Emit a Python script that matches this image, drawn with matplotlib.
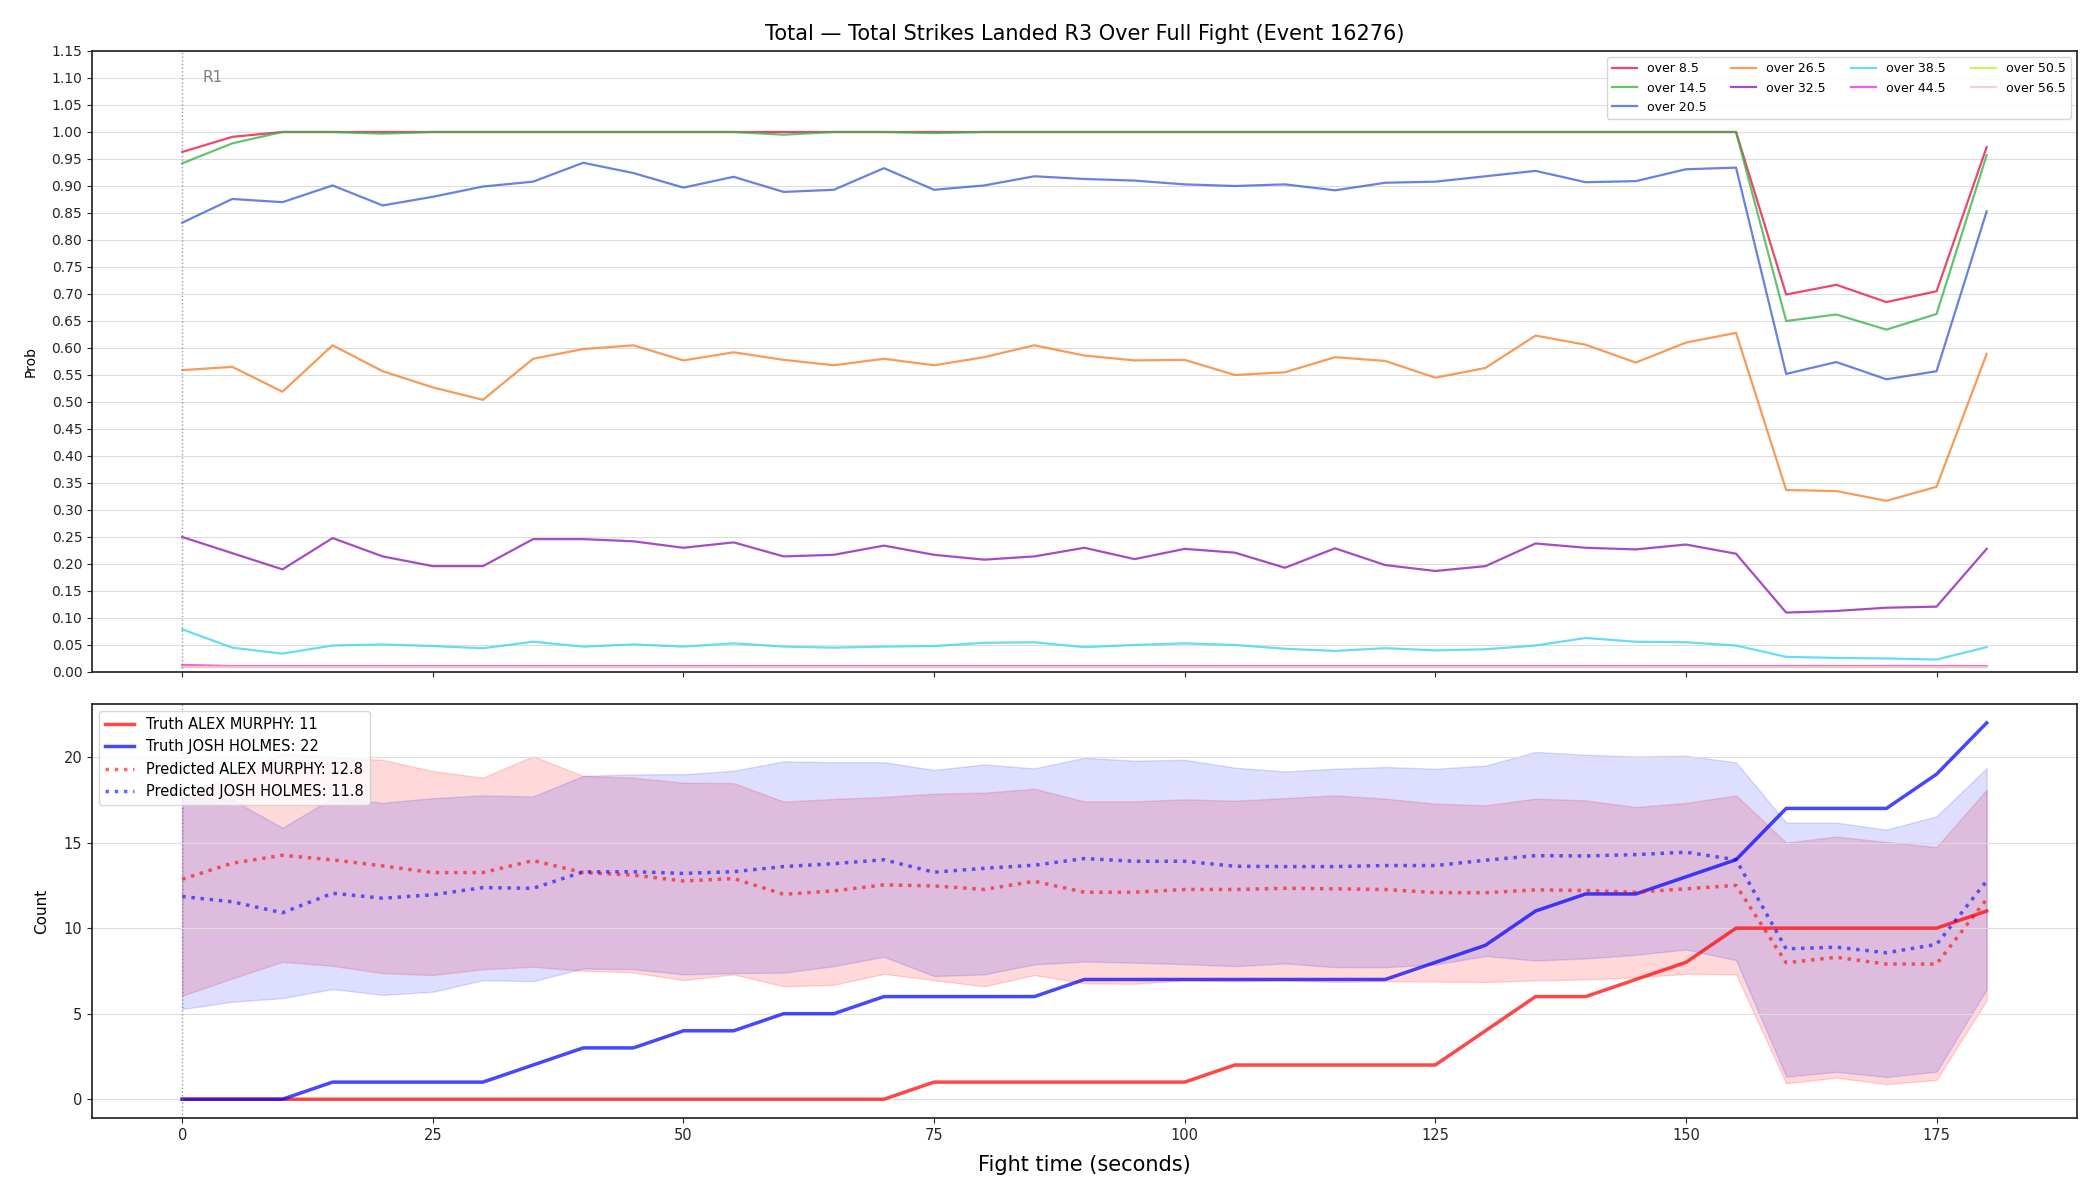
import numpy as np
import matplotlib
matplotlib.use("Agg")
import matplotlib.pyplot as plt
import matplotlib.transforms as mtransforms

# fight time, every 5 s
t = list(range(0, 185, 5))

# market lines, probability of going over
over_8_5 = [0.963, 0.991, 1.0, 1.0, 1.0, 1.0, 1.0, 1.0, 1.0, 1.0, 1.0, 1.0, 1.0, 1.0, 1.0, 1.0, 1.0, 1.0,
            1.0, 1.0, 1.0, 1.0, 1.0, 1.0, 1.0, 1.0, 1.0, 1.0, 1.0, 1.0, 1.0, 1.0, 0.699, 0.717, 0.685, 0.705, 0.972]
over_14_5 = [0.942, 0.979, 1.0, 1.0, 0.997, 1.0, 1.0, 1.0, 1.0, 1.0, 1.0, 1.0, 0.995, 1.0, 1.0, 0.998, 1.0, 1.0,
             1.0, 1.0, 1.0, 1.0, 1.0, 1.0, 1.0, 1.0, 1.0, 1.0, 1.0, 1.0, 1.0, 1.0, 0.650, 0.662, 0.634, 0.663, 0.957]
over_20_5 = [0.832, 0.876, 0.870, 0.901, 0.864, 0.880, 0.899, 0.908, 0.943, 0.924, 0.897, 0.917, 0.889, 0.893,
             0.933, 0.893, 0.901, 0.918, 0.913, 0.910, 0.903, 0.900, 0.903, 0.892, 0.906, 0.908, 0.918, 0.928,
             0.907, 0.909, 0.931, 0.934, 0.552, 0.574, 0.542, 0.557, 0.853]
over_26_5 = [0.559, 0.565, 0.519, 0.605, 0.557, 0.527, 0.504, 0.580, 0.598, 0.605, 0.577, 0.592, 0.578, 0.568,
             0.580, 0.568, 0.583, 0.605, 0.586, 0.577, 0.578, 0.550, 0.555, 0.583, 0.576, 0.545, 0.563, 0.623,
             0.606, 0.573, 0.610, 0.628, 0.337, 0.335, 0.317, 0.343, 0.589]
over_32_5 = [0.250, 0.220, 0.190, 0.248, 0.214, 0.196, 0.196, 0.246, 0.246, 0.242, 0.230, 0.240, 0.214, 0.217,
             0.234, 0.217, 0.208, 0.214, 0.230, 0.209, 0.228, 0.221, 0.193, 0.229, 0.198, 0.187, 0.196, 0.238,
             0.230, 0.227, 0.236, 0.219, 0.110, 0.113, 0.119, 0.121, 0.228]
over_38_5 = [0.079, 0.045, 0.034, 0.049, 0.051, 0.048, 0.044, 0.056, 0.047, 0.051, 0.047, 0.053, 0.047, 0.045,
             0.047, 0.048, 0.054, 0.055, 0.046, 0.050, 0.053, 0.050, 0.043, 0.039, 0.044, 0.040, 0.042, 0.049,
             0.063, 0.056, 0.055, 0.049, 0.028, 0.026, 0.025, 0.023, 0.046]
over_44_5 = [0.013] + [0.011] * 36
over_50_5 = [0.010] * 37
over_56_5 = [0.010] * 37

lines = {"over 8.5": over_8_5, "over 14.5": over_14_5, "over 20.5": over_20_5, "over 26.5": over_26_5,
         "over 32.5": over_32_5, "over 38.5": over_38_5, "over 44.5": over_44_5, "over 50.5": over_50_5,
         "over 56.5": over_56_5}
line_colors = ["#e6194b", "#3cb44b", "#4363d8", "#f58231", "#911eb4", "#42d4f4", "#f032e6", "#bfef45", "#fabed4"]

# cumulative strikes
truth_alex = [0, 0, 0, 0, 0, 0, 0, 0, 0, 0, 0, 0, 0, 0, 0, 1, 1, 1, 1, 1, 1, 2, 2, 2, 2, 2, 4, 6, 6, 7, 8, 10,
              10, 10, 10, 10, 11]
truth_josh = [0, 0, 0, 1, 1, 1, 1, 2, 3, 3, 4, 4, 5, 5, 6, 6, 6, 6, 7, 7, 7, 7, 7, 7, 7, 8, 9, 11, 12, 12, 13, 14,
              17, 17, 17, 19, 22]
pred_alex = [12.86, 13.8, 14.26, 13.99, 13.64, 13.25, 13.25, 13.95, 13.25, 13.1, 12.76, 12.9, 11.98, 12.18,
             12.53, 12.47, 12.26, 12.74, 12.1, 12.1, 12.26, 12.26, 12.33, 12.3, 12.26, 12.08, 12.07, 12.24,
             12.2, 12.1, 12.3, 12.5, 7.98, 8.3, 7.9, 7.9, 11.7]
pred_josh = [11.85, 11.54, 10.9, 12.04, 11.75, 11.95, 12.37, 12.33, 13.29, 13.3, 13.2, 13.3, 13.6, 13.77, 14.0,
             13.27, 13.5, 13.68, 14.07, 13.91, 13.91, 13.62, 13.6, 13.6, 13.66, 13.66, 13.97, 14.24, 14.22,
             14.3, 14.44, 14.0, 8.79, 8.89, 8.56, 9.05, 12.76]
alex_lo = [6.05, 7.06, 8.03, 7.8, 7.37, 7.26, 7.6, 7.74, 7.51, 7.41, 6.96, 7.3, 6.6, 6.69, 7.33, 6.96, 6.6, 7.26,
           6.77, 6.75, 6.95, 6.9, 6.95, 6.85, 6.9, 6.88, 6.85, 6.95, 7.0, 7.12, 7.33, 7.3, 0.93, 1.26, 0.88,
           1.13, 5.78]
alex_hi = [17.6, 19.0, 20.2, 20.0, 19.84, 19.18, 18.8, 20.05, 18.9, 18.8, 18.5, 18.48, 17.4, 17.55, 17.67,
           17.86, 17.92, 18.15, 17.41, 17.41, 17.53, 17.45, 17.6, 17.76, 17.57, 17.28, 17.18, 17.57, 17.47,
           17.08, 17.32, 17.76, 15.0, 15.35, 15.04, 14.74, 18.1]
josh_lo = [5.27, 5.7, 5.91, 6.44, 6.1, 6.28, 6.96, 6.9, 7.64, 7.6, 7.3, 7.37, 7.4, 7.78, 8.33, 7.2, 7.3, 7.88,
           8.05, 7.98, 7.9, 7.78, 7.94, 7.72, 7.72, 7.88, 8.37, 8.11, 8.23, 8.44, 8.75, 8.13, 1.32, 1.6, 1.3,
           1.61, 6.42]
josh_hi = [17.7, 17.5, 15.87, 17.6, 17.33, 17.6, 17.76, 17.7, 18.9, 18.99, 19.0, 19.2, 19.75, 19.7, 19.7,
           19.25, 19.57, 19.34, 19.96, 19.79, 19.84, 19.38, 19.16, 19.32, 19.42, 19.32, 19.5, 20.3, 20.14,
           20.04, 20.08, 19.69, 16.17, 16.17, 15.76, 16.54, 19.36]

plt.rcParams["axes.edgecolor"] = "#262626"
plt.rcParams["axes.linewidth"] = 1.25
plt.rcParams["xtick.color"] = "#262626"
plt.rcParams["ytick.color"] = "#262626"

fig, (ax1, ax2) = plt.subplots(2, 1, figsize=(21, 12), dpi=100, sharex=True,
                               gridspec_kw={"height_ratios": [1.5, 1]})
fig.subplots_adjust(left=0.0438, right=0.989, top=0.9575, bottom=0.0683, hspace=0.062)

for (name, vals), c in zip(lines.items(), line_colors):
    ax1.plot(t, vals, color=c, lw=1.6, alpha=0.8, label=name)
ax1.set_ylim(0, 1.15)
ax1.set_yticks(np.arange(0, 1.151, 0.05))
ax1.set_yticklabels([f"{v:.2f}" for v in np.arange(0, 1.151, 0.05)])
ax1.set_ylabel("Prob", fontsize=10, labelpad=10)
ax1.grid(axis="y", color="#dddddd", lw=0.8)
ax1.axvline(0, color="gray", ls=":", lw=1, alpha=0.8)
trans = mtransforms.blended_transform_factory(ax1.transData, ax1.transAxes)
ax1.text(2, 0.957, "R1", transform=trans, color="gray", fontsize=11, va="center")
ax1.legend(loc="upper right", ncol=4, fontsize=9)
ax1.set_title("Total — Total Strikes Landed R3 Over Full Fight (Event 16276)", fontsize=15, pad=8)
ax1.tick_params(labelsize=10)

ax2.fill_between(t, alex_lo, alex_hi, color="red", alpha=0.15)
ax2.fill_between(t, josh_lo, josh_hi, color="blue", alpha=0.13)
ax2.plot(t, truth_alex, color="red", lw=2.5, alpha=0.72, label=f"Truth ALEX MURPHY: {truth_alex[-1]}")
ax2.plot(t, truth_josh, color="blue", lw=2.5, alpha=0.72, label=f"Truth JOSH HOLMES: {truth_josh[-1]}")
ax2.plot(t, pred_alex, color="red", lw=2.5, ls=":", alpha=0.6, label="Predicted ALEX MURPHY: 12.8")
ax2.plot(t, pred_josh, color="blue", lw=2.5, ls=":", alpha=0.6, label="Predicted JOSH HOLMES: 11.8")
ax2.axvline(0, color="gray", ls=":", lw=1, alpha=0.8)
ax2.set_ylabel("Count", fontsize=11, labelpad=10)
ax2.set_xlabel("Fight time (seconds)", fontsize=15, labelpad=9)
ax2.grid(axis="y", color="#dddddd", lw=0.8)
ax2.legend(loc="upper left", fontsize=10.5)
ax2.tick_params(labelsize=10.5)

fig.savefig("out.png", dpi=100)
